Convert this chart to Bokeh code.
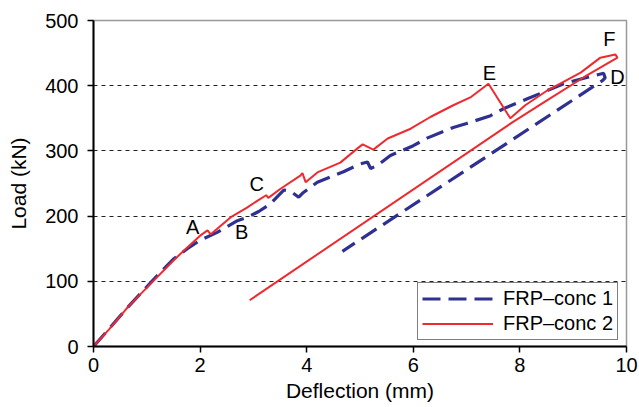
from bokeh.plotting import figure
from bokeh.models import Legend, LegendItem, FixedTicker, Label
from bokeh.embed import file_html
from bokeh.resources import INLINE

# FRP-conc 1 (blue dashed): loading then unloading
defl_1 = [0, 0.3, 0.64, 1.13, 1.5, 1.76, 2.0, 2.32, 2.7, 2.88, 3.1, 3.32, 3.45, 3.57, 3.7, 3.85, 3.92,
          4.2, 4.45, 4.69, 5.0, 5.14, 5.2, 5.33, 5.57, 6.0, 6.27, 6.75, 7.0, 7.45, 7.7, 8.14, 8.5,
          8.82, 9.27, 9.57, 9.6, 9.55, 4.67]
load_1 = [0, 28, 60, 103, 134, 150, 163, 175, 193, 198, 207, 219, 230, 240, 238, 229, 235,
          252, 260, 268, 280, 283, 273, 278, 293, 308, 320, 336, 342, 354, 365, 380, 392,
          403, 413, 419, 412, 408, 146]

# FRP-conc 2 (red solid): loading, drop at E, reloading to F, unloading
defl_2 = [0, 0.3, 0.64, 1.13, 1.5, 1.76, 2.0, 2.14, 2.2, 2.57, 2.88, 3.1, 3.24, 3.28, 3.51, 3.88, 3.92,
          3.98, 4.2, 4.63, 4.97, 5.05, 5.25, 5.52, 5.95, 6.32, 6.75, 7.07, 7.41, 7.82, 8.1, 8.52,
          9.14, 9.51, 9.79, 9.83, 9.2, 8.5, 7.88, 2.93]
load_2 = [0, 27, 60, 101, 132, 152, 170, 178, 172, 198, 213, 225, 232, 228, 242, 262, 266,
          252, 267, 282, 305, 310, 302, 319, 334, 352, 370, 382, 403, 350, 370, 393,
          420, 443, 448, 443, 413, 377, 345, 71]

point_names = ["A", "B", "C", "D", "E", "F"]
point_x = [1.86, 2.78, 3.06, 9.83, 7.43, 9.68]
point_y = [184, 175, 250, 414, 420, 472]

x_ticks = [0, 2, 4, 6, 8, 10]
y_ticks = [0, 100, 200, 300, 400, 500]
series_names = ["FRP\u2013conc 1", "FRP\u2013conc 2"]

FONT = "Liberation Sans"
FS = "20px"

p = figure(width=639, height=407, output_backend="svg", toolbar_location=None,
           x_range=(0, 10), y_range=(0, 500),
           min_border_left=93, min_border_right=13, min_border_top=20, min_border_bottom=61)
p.outline_line_color = "#999999"
p.outline_line_width = 1.5
p.background_fill_color = "white"
p.border_fill_color = "white"

p.xgrid.grid_line_color = None
p.ygrid.grid_line_color = "#222222"
p.ygrid.grid_line_dash = "4 4"
p.ygrid.grid_line_width = 1

for ax in (p.xaxis, p.yaxis):
    ax.axis_line_color = "black"
    ax.axis_line_width = 2
    ax.major_tick_line_color = "black"
    ax.major_tick_line_width = 1.5
    ax.major_tick_out = 6
    ax.major_tick_in = 0
    ax.minor_tick_line_color = None
    ax.major_label_text_font = FONT
    ax.major_label_text_font_size = FS
    ax.major_label_text_color = "black"
    ax.axis_label_text_font = FONT
    ax.axis_label_text_font_size = "21px"
    ax.axis_label_text_font_style = "normal"
    ax.axis_label_text_color = "black"

p.xaxis.ticker = FixedTicker(ticks=x_ticks)
p.yaxis.ticker = FixedTicker(ticks=y_ticks)
p.ygrid.ticker = FixedTicker(ticks=[100, 200, 300, 400])
p.xaxis.axis_label = "Deflection (mm)"
p.yaxis.axis_label = "Load (kN)"
p.xaxis.major_label_standoff = 5
p.yaxis.major_label_standoff = 9
p.xaxis.axis_label_standoff = 4
p.yaxis.axis_label_standoff = 12

r1 = p.line(defl_1, load_1, line_color="#2E3192", line_width=3.2, line_dash="18 8")
r2 = p.line(defl_2, load_2, line_color="#EE2A2F", line_width=2)

for name, x, y in zip(point_names, point_x, point_y):
    p.add_layout(Label(x=x, y=y, text=name, text_font=FONT, text_font_size=FS,
                       text_color="black", text_align="center", text_baseline="middle"))

legend = Legend(items=[LegendItem(label=series_names[0], renderers=[r1]),
                       LegendItem(label=series_names[1], renderers=[r2])],
                location=(324, 6))
legend.label_text_font = FONT
legend.label_text_font_size = FS
legend.label_text_color = "black"
legend.glyph_width = 71
legend.glyph_height = 19
legend.label_height = 19
legend.spacing = 2
legend.padding = 4
legend.margin = 0
legend.label_standoff = 10
legend.border_line_color = "black"
legend.border_line_width = 1
legend.background_fill_alpha = 1
p.add_layout(legend)

open("out.html", "w").write(file_html(p, INLINE))
